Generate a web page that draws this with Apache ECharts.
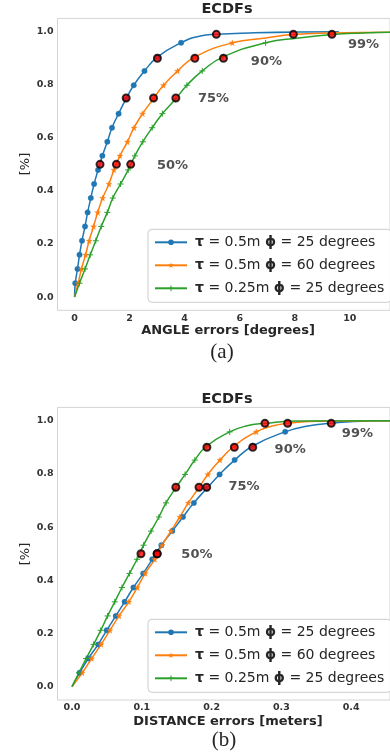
<!DOCTYPE html>
<html>
<head>
<meta charset="utf-8">
<script src="https://cdn.jsdelivr.net/npm/echarts@6/dist/echarts.min.js"></script>
<style>
  html, body { margin: 0; padding: 0; background: #fff; }
  #chart { width: 390px; height: 755px; }
</style>
</head>
<body>
<div id="chart"></div>
<script>
// ---- data ----
const seriesNames = ['τ = 0.5m ϕ = 25 degrees', 'τ = 0.5m ϕ = 60 degrees', 'τ = 0.25m ϕ = 25 degrees'];
const yTicks = [0, 0.2, 0.4, 0.6, 0.8, 1.0];
const angleTicks = [0, 2, 4, 6, 8, 10];
const distTicks = [0, 0.1, 0.2, 0.3, 0.4];

// cumulative levels where the curve markers sit
const stepY = [0.052, 0.106, 0.159, 0.212, 0.266, 0.319, 0.373, 0.426, 0.479, 0.532,
  0.585, 0.638, 0.691, 0.745, 0.798, 0.852, 0.905, 0.958];

// (a) angle errors, x of each marker
const angleBlueX = [0.025, 0.107, 0.18, 0.27, 0.38, 0.475, 0.59, 0.71, 0.854, 1.01, 1.19, 1.36, 1.60, 1.86, 2.15, 2.54, 3.02, 3.87];
const angleOrangeX = [0.13, 0.25, 0.40, 0.53, 0.69, 0.84, 1.02, 1.25, 1.43, 1.65, 1.92, 2.16, 2.47, 2.85, 3.23, 3.74, 4.38, 5.73];
const angleGreenX = [0.18, 0.38, 0.57, 0.77, 0.97, 1.19, 1.39, 1.67, 1.95, 2.19, 2.48, 2.82, 3.19, 3.66, 4.08, 4.64, 5.40, 6.94];
// flat tails, no markers
const angleBlueTail = [[4.57, 0.984], [5.15, 0.99], [6.35, 0.995], [8.12, 0.999], [9.6, 1.0]];
const angleOrangeTail = [[6.94, 0.976], [7.92, 0.989], [9.31, 0.995], [11.5, 0.998]];
const angleGreenTail = [[8.12, 0.976], [9.35, 0.989], [10.5, 0.995], [11.5, 0.998]];

// (b) distance errors
const distBlueX = [0.0108, 0.0234, 0.0375, 0.0497, 0.0627, 0.0754, 0.088, 0.102, 0.115, 0.128, 0.1437, 0.159, 0.1746, 0.193, 0.2115, 0.233, 0.259, 0.3055];
const distOrangeX = [0.0146, 0.0281, 0.0417, 0.0543, 0.0674, 0.0814, 0.0936, 0.1049, 0.1185, 0.129, 0.1418, 0.1544, 0.1666, 0.181, 0.1947, 0.212, 0.2326, 0.264];
const distGreenX = [0.0099, 0.0202, 0.031, 0.0412, 0.051, 0.0613, 0.0716, 0.0824, 0.0932, 0.1025, 0.1133, 0.1245, 0.1347, 0.148, 0.162, 0.176, 0.193, 0.226];
const distBlueTail = [[0.3383, 0.98], [0.3715, 0.99], [0.404, 0.997], [0.46, 1.0]];
const distOrangeTail = [[0.287, 0.98], [0.309, 0.99], [0.3477, 0.998], [0.46, 1.0]];
const distGreenTail = [[0.2494, 0.98], [0.2765, 0.99], [0.324, 0.999], [0.46, 1.0]];

// percentile points (red dots)
const pctLevels = [0.5, 0.75, 0.9, 0.99];
const pctLabels = ['50%', '75%', '90%', '99%'];
const anglePctX = [[0.925, 1.875, 3.01, 5.15], [1.52, 2.87, 4.37, 7.95], [2.04, 3.68, 5.41, 9.35]];
const distPctX = [[0.122, 0.193, 0.259, 0.3715], [0.122, 0.182, 0.2326, 0.309], [0.0988, 0.1488, 0.1933, 0.2765]];
const angleLabelPos = [[3.56, 0.497], [5.05, 0.746], [6.97, 0.887], [10.5, 0.95]];
const distLabelPos = [[0.179, 0.498], [0.2466, 0.752], [0.3126, 0.89], [0.409, 0.95]];

// ---- styling ----
const colors = ['#1f77b4', '#ff7f0e', '#2ca02c'];
const starPath = 'path://M5,0L6.2,3.5L10,3.6L7,5.9L8.1,9.5L5,7.4L1.9,9.5L3,5.9L0,3.6L3.8,3.5Z';
const plusPath = 'path://M0,5L10,5M5,0L5,10';
const symbols = ['circle', starPath, plusPath];
const symbolSizes = [5.5, 6, 6];
const FONT = '"DejaVu Sans", sans-serif';
const TXT = '#262626';

function curve(i, gi, xs, tail) {
  const data = [{ value: [0, 0], symbol: 'none' }];
  xs.forEach((x, k) => data.push([x, stepY[k]]));
  tail.forEach(p => data.push({ value: p, symbol: 'none' }));
  return {
    type: 'line', name: seriesNames[i], xAxisIndex: gi, yAxisIndex: gi,
    data, smooth: 0.5, showAllSymbol: true,
    symbol: symbols[i], symbolSize: symbolSizes[i], color: colors[i],
    lineStyle: { width: 1.5, color: colors[i] },
    itemStyle: { color: colors[i], borderColor: colors[i], borderWidth: i === 2 ? 1 : 0.3 },
    z: 2
  };
}

function pctDots(gi, xs) {
  const data = [];
  xs.forEach(row => row.forEach((x, k) => data.push([x, pctLevels[k]])));
  return {
    type: 'scatter', xAxisIndex: gi, yAxisIndex: gi, data, symbol: 'circle', symbolSize: 7,
    itemStyle: { color: '#ff0000', borderColor: '#000', borderWidth: 2 }, z: 5
  };
}

function pctText(gi, pos) {
  return {
    type: 'scatter', xAxisIndex: gi, yAxisIndex: gi, symbolSize: 1,
    data: pos.map((p, k) => ({ value: p, name: pctLabels[k] })),
    itemStyle: { color: 'transparent' },
    label: { show: true, position: 'inside', formatter: '{b}', fontFamily: FONT, fontWeight: 'bold', fontSize: 13, color: TXT },
    z: 6
  };
}

const axisLbl = { fontFamily: FONT, fontWeight: 'bold', fontSize: 9.5, color: '#333' };

function xAxis(gi, min, max, ticks, fmt) {
  return {
    type: 'value', gridIndex: gi, min, max,
    axisLine: { show: false }, axisTick: { show: false }, splitLine: { show: false },
    axisLabel: Object.assign({ customValues: ticks, margin: 3, formatter: fmt }, axisLbl)
  };
}
function yAxis(gi) {
  return {
    type: 'value', gridIndex: gi, min: -0.05, max: 1.05,
    axisLine: { show: false }, axisTick: { show: false }, splitLine: { show: false },
    axisLabel: Object.assign({ customValues: yTicks, margin: 4, formatter: v => v.toFixed(1) }, axisLbl)
  };
}

function legend(top) {
  return {
    data: seriesNames.map((name, i) => ({
      name, itemStyle: { borderWidth: i === 2 ? 1 : 0, borderColor: colors[i] }
    })),
    orient: 'vertical', left: 148, top,
    padding: [6, 7, 7, 6], itemGap: 9, itemWidth: 32, itemHeight: 7,
    backgroundColor: 'rgba(255,255,255,0.85)', borderColor: '#ccc', borderWidth: 1, borderRadius: 4,
    selectedMode: false,
    formatter: name => name.replace(/([τϕ])/g, '{b|$1}'),
    textStyle: {
      fontFamily: FONT, fontSize: 14, color: TXT, lineHeight: 14, padding: [0, 0, 0, 3],
      rich: { b: { fontFamily: FONT, fontSize: 14, fontWeight: 'bold', color: TXT } }
    }
  };
}

function txt(x, y, text, font, rot) {
  return {
    type: 'text', x, y, rotation: rot || 0,
    style: { text, font, fill: TXT, align: 'center', verticalAlign: 'middle', textAlign: 'center', textVerticalAlign: 'middle' }
  };
}

const chart = echarts.init(document.getElementById('chart'), null, { renderer: 'canvas' });
chart.setOption({
  backgroundColor: '#fff',
  animation: false,
  grid: [
    { left: 57.5, top: 18.4, width: 339.5, height: 291.9, show: true, borderColor: '#d4d4d4', borderWidth: 1, backgroundColor: '#fff' },
    { left: 57.5, top: 407.4, width: 339.5, height: 292.6, show: true, borderColor: '#d4d4d4', borderWidth: 1, backgroundColor: '#fff' }
  ],
  xAxis: [
    xAxis(0, -0.62, 11.46, angleTicks, v => String(v)),
    xAxis(1, -0.0208, 0.4557, distTicks, v => v.toFixed(1))
  ],
  yAxis: [yAxis(0), yAxis(1)],
  legend: [legend(229.3), legend(619.3)],
  series: [
    curve(0, 0, angleBlueX, angleBlueTail),
    curve(1, 0, angleOrangeX, angleOrangeTail),
    curve(2, 0, angleGreenX, angleGreenTail),
    pctDots(0, anglePctX),
    pctText(0, angleLabelPos),
    curve(0, 1, distBlueX, distBlueTail),
    curve(1, 1, distOrangeX, distOrangeTail),
    curve(2, 1, distGreenX, distGreenTail),
    pctDots(1, distPctX),
    pctText(1, distLabelPos)
  ],
  graphic: [
    txt(227, 9, 'ECDFs', 'bold 14.5px "DejaVu Sans"'),
    txt(227, 399, 'ECDFs', 'bold 14.5px "DejaVu Sans"'),
    txt(228, 331, 'ANGLE errors [degrees]', 'bold 13px "DejaVu Sans"'),
    txt(228, 721.5, 'DISTANCE errors [meters]', 'bold 13px "DejaVu Sans"'),
    txt(25.7, 164, '[%]', '13px "DejaVu Sans"', Math.PI / 2),
    txt(25.7, 554, '[%]', '13px "DejaVu Sans"', Math.PI / 2),
    txt(222, 352, '(a)', '21px "Liberation Serif"'),
    txt(224, 740, '(b)', '21px "Liberation Serif"')
  ]
});
</script>
</body>
</html>
